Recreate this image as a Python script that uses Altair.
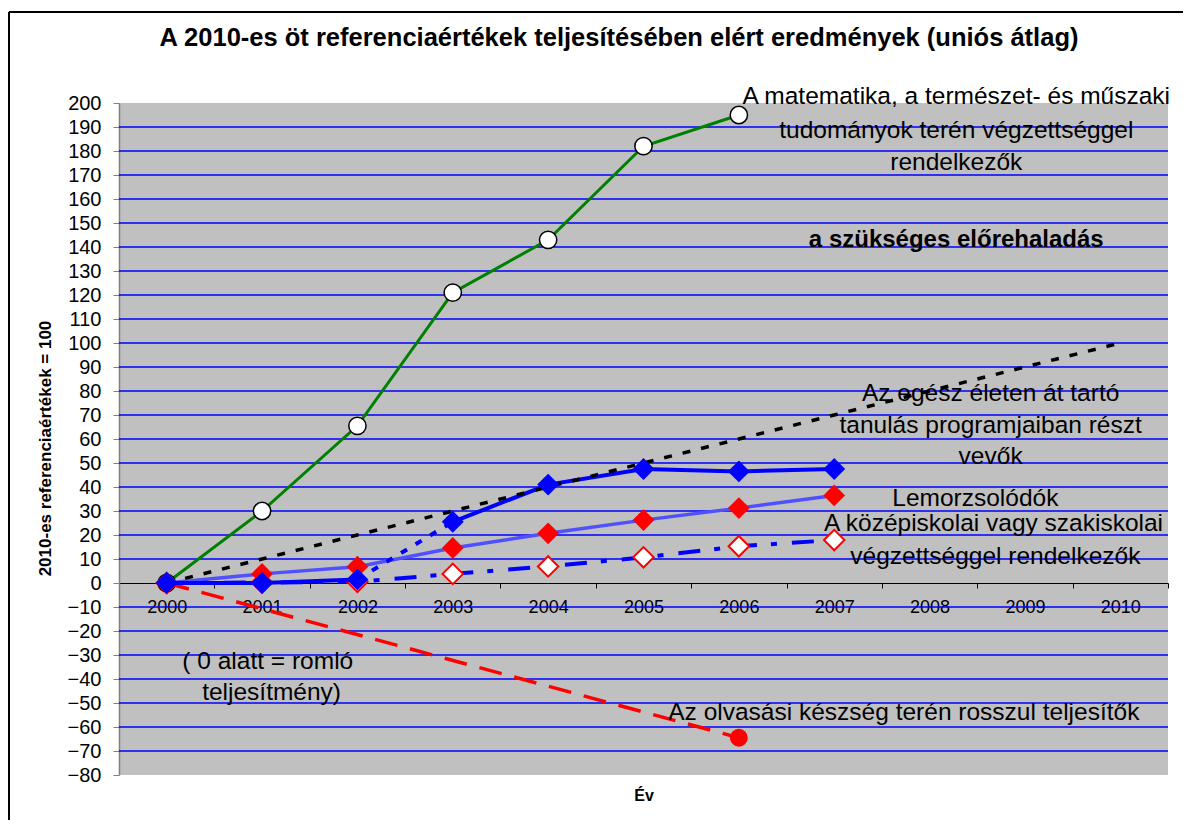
import altair as alt
import pandas as pd

# ---------------- data ----------------
years_all = [2000, 2001, 2002, 2003, 2004, 2005, 2006, 2007, 2008, 2009, 2010]

progress_values = [0, 10, 20, 30, 40, 50, 60, 70, 80, 90, 100]

math_years = [2000, 2001, 2002, 2003, 2004, 2005, 2006]
math_values = [0, 30, 65.5, 121, 143, 182, 195]

series_years = [2000, 2001, 2002, 2003, 2004, 2005, 2006, 2007]
lifelong_values = [0, 0, 1.5, 25.5, 41, 47.5, 46.5, 47.5]
dropout_values = [0, 3.8, 6.8, 14.6, 20.7, 26.2, 31.2, 36.5]
upper_sec_values = [0, 0.2, 0.5, 3.8, 6.9, 10.7, 15.3, 17.9]

reading_years = [2000, 2006]
reading_values = [0, -64.5]

grid_values = [-70, -60, -50, -40, -30, -20, -10, 10, 20, 30, 40, 50, 60, 70,
               80, 90, 100, 110, 120, 130, 140, 150, 160, 170, 180, 190]

title_text = "A 2010-es öt referenciaértékek teljesítésében elért eredmények (uniós átlag)"
y_title = "2010-es referenciaértékek = 100"
x_title = "Év"

ann_labels = [
    "A matematika, a természet- és műszaki",
    "tudományok terén végzettséggel",
    "rendelkezők",
    "Az egész életen át tartó",
    "tanulás programjaiban részt",
    "vevők",
    "Lemorzsolódók",
    "A középiskolai vagy szakiskolai",
    "végzettséggel rendelkezők",
    "( 0 alatt = romló",
    "teljesítmény)",
    "Az olvasási készség terén rosszul teljesítők",
]
ann_x = [2008.28, 2008.28, 2008.28, 2008.64, 2008.64, 2008.64, 2008.48,
         2008.67, 2008.69, 2001.06, 2001.10, 2007.73]
ann_y = [202.5, 188.5, 175.0, 78.8, 65.4, 52.5, 35.0, 24.6, 10.8, -32.9, -45.8, -54.2]

bold_labels = ["a szükséges előrehaladás"]
bold_x = [2008.28]
bold_y = [142.9]

FONT = "Liberation Sans"

# ---------------- frames ----------------
math_df = pd.DataFrame({"year": math_years, "value": math_values})
prog_df = pd.DataFrame({"year": years_all, "value": progress_values})
life_df = pd.DataFrame({"year": series_years, "value": lifelong_values})
drop_df = pd.DataFrame({"year": series_years, "value": dropout_values})
upper_df = pd.DataFrame({"year": series_years, "value": upper_sec_values})
read_df = pd.DataFrame({"year": reading_years, "value": reading_values})
grid_df = pd.DataFrame({"value": grid_values})
ann_df = pd.DataFrame({"year": ann_x, "value": ann_y, "label": ann_labels})
bold_df = pd.DataFrame({"year": bold_x, "value": bold_y, "label": bold_labels})
title_df = pd.DataFrame({"label": [title_text]})

band_px = 1049 / 11

x_axis = alt.Axis(
    values=[1999.5 + i for i in range(12)],
    labelExpr="datum.value > 2010 ? '' : format(datum.value + 0.5, 'd')",
    labelOffset=band_px / 2,
    labelFlush=False,
    labelOverlap=False,
    offset=-192,
    grid=False,
    tickSize=5,
    tickColor="black",
    domainColor="black",
    domainWidth=1,
    labelFont=FONT,
    labelFontSize=18,
    labelColor="black",
    labelPadding=10,
    title=x_title,
    titleFont=FONT,
    titleFontSize=16,
    titleFontWeight="bold",
    titleColor="black",
    titleX=524.5,
    titleY=212,
    titleAlign="center",
    titleBaseline="middle",
)

y_axis = alt.Axis(
    values=list(range(-80, 201, 10)),
    grid=False,
    domainColor="#808080",
    domainWidth=1.5,
    tickColor="#808080",
    tickSize=6,
    labelFont=FONT,
    labelFontSize=20,
    labelColor="black",
    labelPadding=12,
    title=y_title,
    titleFont=FONT,
    titleFontSize=17,
    titleFontWeight="bold",
    titleColor="black",
    titleAngle=270,
    titleX=-74,
    titleY=345,
    titleAlign="center",
    titleBaseline="middle",
)

X = alt.X("year:Q", scale=alt.Scale(domain=[1999.5, 2010.5], nice=False, zero=False), axis=x_axis)
Y = alt.Y("value:Q", scale=alt.Scale(domain=[-80, 200], nice=False, zero=False), axis=y_axis)

BLUE = "#0000ff"
LBLUE = "#5050ff"
RED = "#ff0000"
GREEN = "#008000"

# blue horizontal gridlines
grid = alt.Chart(grid_df).mark_rule(color=BLUE, strokeWidth=1.5, opacity=1).encode(y=Y)

# green: mathematics
math_line = alt.Chart(math_df).mark_line(color=GREEN, strokeWidth=3).encode(x=X, y=Y)
math_pts = alt.Chart(math_df).mark_point(
    shape="circle", filled=True, fill="white", stroke="black", strokeWidth=1.5, size=300, opacity=1
).encode(x=X, y=Y)

# red dashed: reading
read_line = alt.Chart(read_df).mark_line(color=RED, strokeWidth=3.5, strokeDash=[23, 13]).encode(x=X, y=Y)
read_pt = alt.Chart(read_df).mark_point(
    shape="circle", filled=True, color=RED, size=320, opacity=1
).encode(x=X, y=Y).transform_filter("datum.year == 2006")

# light blue with red diamonds: dropouts
drop_line = alt.Chart(drop_df).mark_line(color=LBLUE, strokeWidth=3.5).encode(x=X, y=Y)
drop_pts = alt.Chart(drop_df).mark_point(
    shape="diamond", filled=True, color=RED, size=470, opacity=1
).encode(x=X, y=Y)

# blue dash-dot with white diamonds: upper secondary
upper_line = alt.Chart(upper_df).mark_line(color=BLUE, strokeWidth=4, strokeDash=[22, 14, 6, 15]).encode(x=X, y=Y)
upper_pts = alt.Chart(upper_df).mark_point(
    shape="diamond", filled=True, fill="white", stroke=RED, strokeWidth=2, size=420, opacity=1
).encode(x=X, y=Y)

# dark blue: lifelong learning
life_line1 = alt.Chart(life_df).mark_line(color=BLUE, strokeWidth=4).encode(x=X, y=Y).transform_filter("datum.year <= 2002")
life_line2 = alt.Chart(life_df).mark_line(color=BLUE, strokeWidth=4, strokeDash=[7, 10]).encode(x=X, y=Y).transform_filter("datum.year >= 2002 && datum.year <= 2003")
life_line3 = alt.Chart(life_df).mark_line(color=BLUE, strokeWidth=4).encode(x=X, y=Y).transform_filter("datum.year >= 2003")
life_pts = alt.Chart(life_df).mark_point(
    shape="diamond", filled=True, color=BLUE, size=480, opacity=1
).encode(x=X, y=Y)

# black dotted: required progress
prog_line = alt.Chart(prog_df).mark_line(color="black", strokeWidth=3.5, strokeDash=[8, 11]).encode(x=X, y=Y)

# annotations
ann = alt.Chart(ann_df).mark_text(
    font=FONT, fontSize=24.5, color="black", align="center", baseline="middle"
).encode(x=X, y=Y, text="label:N")
ann_bold = alt.Chart(bold_df).mark_text(
    font=FONT, fontSize=24, fontWeight="bold", color="black", align="center", baseline="middle"
).encode(x=X, y=Y, text="label:N")

# chart title (as text above the plot)
title_mark = alt.Chart(title_df).mark_text(
    font=FONT, fontSize=25.5, fontWeight="bold", color="black", align="center", baseline="middle"
).encode(x=alt.value(500), y=alt.value(-65), text="label:N")

# outer frame (left and top edges)
frame_left = alt.Chart(title_df).mark_rule(color="black", strokeWidth=2).encode(
    x=alt.value(-110), y=alt.value(-91), y2=alt.value(900)
)
frame_top = alt.Chart(title_df).mark_rule(color="black", strokeWidth=2).encode(
    x=alt.value(-110), x2=alt.value(1200), y=alt.value(-91)
)

chart = alt.layer(
    grid,
    math_line, math_pts,
    read_line, read_pt,
    drop_line, drop_pts,
    upper_line, upper_pts,
    life_line1, life_line2, life_line3,
    prog_line,
    life_pts,
    ann, ann_bold,
    title_mark,
    frame_left, frame_top,
).properties(
    width=1049,
    height=672,
    padding={"left": 111, "top": 95, "right": 15, "bottom": 45},
    autosize=alt.AutoSizeParams(type="none"),
    background="white",
).configure_view(
    fill="#c0c0c0", stroke=None
)

chart.save("out.html", embed_options={"renderer": "svg", "actions": False})
